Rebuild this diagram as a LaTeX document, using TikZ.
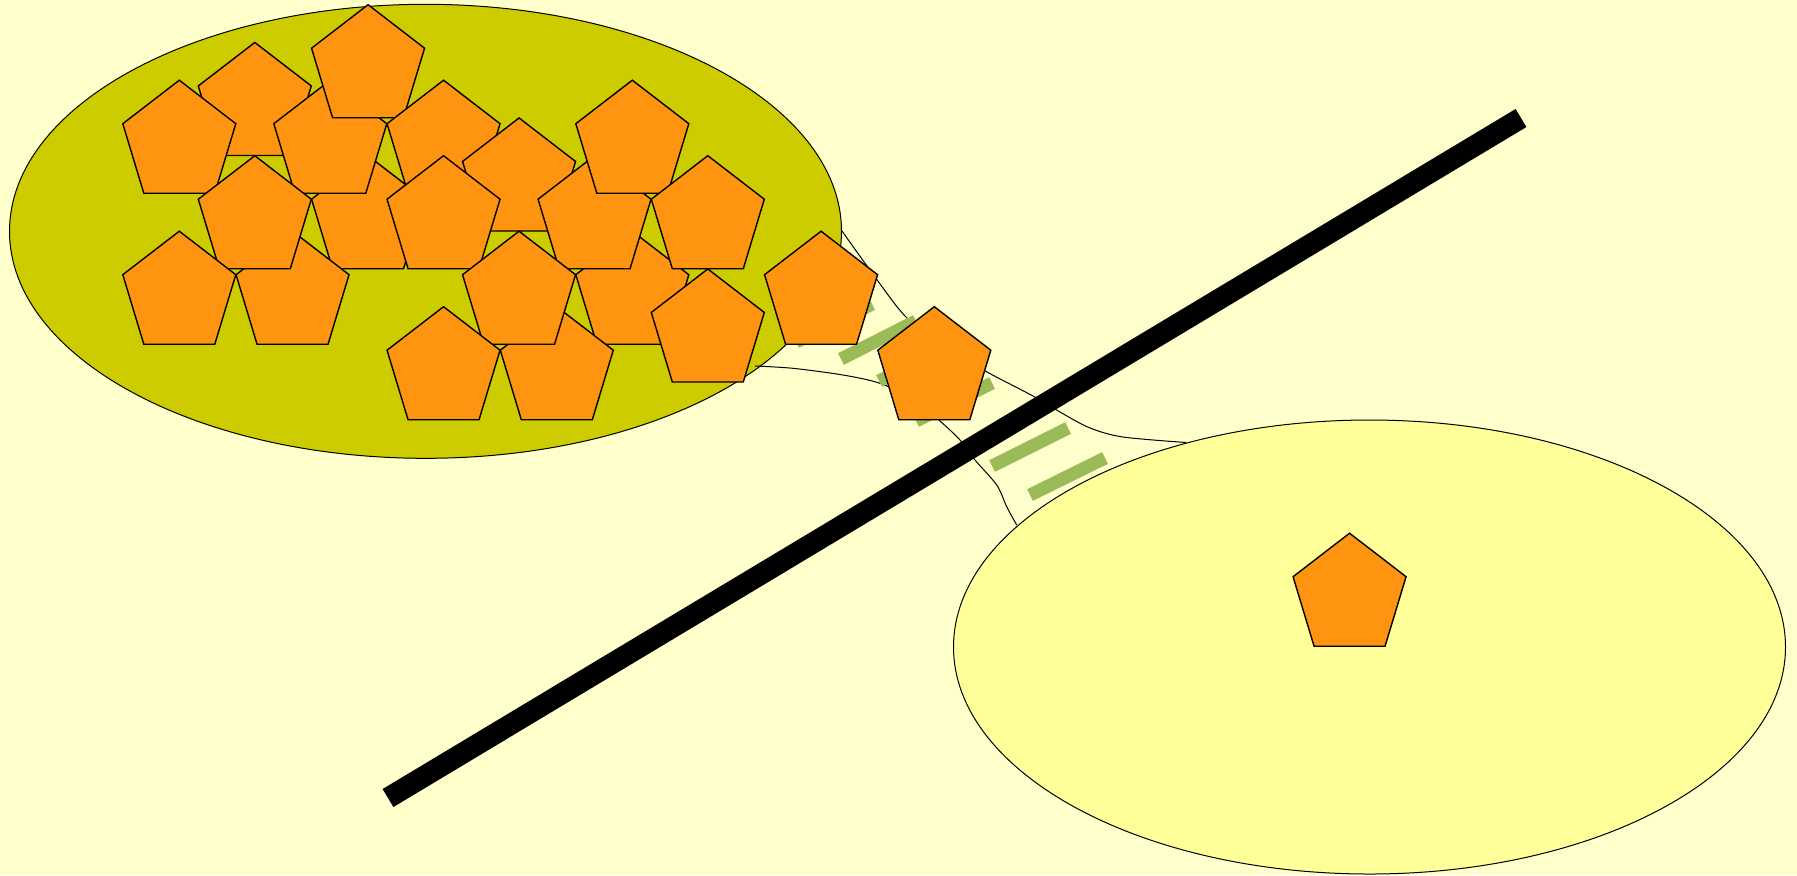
\documentclass[tikz,border=0pt]{standalone}
\usetikzlibrary{shapes.geometric}
\definecolor{bgyellow}{HTML}{FFFFCC}
\definecolor{olivefill}{HTML}{CCCC00}
\definecolor{lightfill}{HTML}{FFFF99}
\definecolor{pentorange}{HTML}{FF9411}
\definecolor{dashgreen}{HTML}{9BBB59}
\newcommand\mypent[2]{%
  \draw[pentshape] ({179.3+37.75*#1},{4.7+37.75*#2}) -- ++(56.5,43.5) -- ++(-21,69.5) -- ++(-71,0) -- ++(-21,-69.5) -- cycle;}
\begin{document}
\begin{tikzpicture}[x=0.5pt,y=-0.5pt,
  pentshape/.style={draw=black, line width=0.7pt, fill=pentorange, line join=miter},
  greenbar/.style={draw=dashgreen, line width=6.5pt},
  tube/.style={draw=black, line width=0.5pt},
  blackbar/.style={draw=black, line width=10.5pt},
  blob/.style={ellipse, draw=black, line width=0.5pt, inner sep=0pt, minimum width=416pt, minimum height=227pt}]
\fill[bgyellow] (0,0) rectangle (1797,875);
\useasboundingbox (0,0) rectangle (1797,875);
% regions
\node[blob, fill=olivefill] (left) at (425.5,231.3) {};
\node[blob, fill=lightfill] (right) at (1369.5,647) {};
% tube boundaries
\draw[tube] plot[smooth, tension=0.5] coordinates {(842,231) (875,277) (907,318) (950,350) (987,372) (1033,396) (1060,412) (1090,428) (1123,437) (1186,442.5)};
\draw[tube] plot[smooth, tension=0.5] coordinates {(755,366) (793,368.3) (843,375) (880,383.3) (915,400) (940,421) (960,440) (975,460) (996.7,485) (1006.7,506.7) (1016.7,525)};
% green dashes
\coordinate (g1a) at (796,342); \coordinate (g1b) at (872,304);
\coordinate (g2a) at (841,359); \coordinate (g2b) at (916,321);
\coordinate (g3a) at (879,381); \coordinate (g3b) at (955,343);
\coordinate (g4a) at (916,421); \coordinate (g4b) at (992,383);
\coordinate (g5a) at (992,466); \coordinate (g5b) at (1068,428);
\coordinate (g6a) at (1030,495); \coordinate (g6b) at (1105,458);
\draw[greenbar] (g1a) -- (g1b);
\draw[greenbar] (g2a) -- (g2b);
\draw[greenbar] (g3a) -- (g3b);
\draw[greenbar] (g4a) -- (g4b);
\draw[greenbar] (g5a) -- (g5b);
\draw[greenbar] (g6a) -- (g6b);
% pentagons (back to front)
\mypent{2}{1}
\mypent{5}{4}
\mypent{0}{2}
\mypent{4}{2}
\mypent{5}{0}
\mypent{7}{2}
\mypent{9}{3}
\mypent{3}{6}
\mypent{2}{4}
\mypent{0}{6}
\mypent{7}{4}
\mypent{12}{6}
\mypent{11}{4}
\mypent{12}{2}
\mypent{14}{4}
\mypent{14}{7}
\mypent{10}{8}
\mypent{9}{6}
\mypent{7}{8}
\mypent{17}{6}
\mypent{20}{8}
\mypent{31}{14}
% barrier
\coordinate (barA) at (388,798);
\coordinate (barB) at (1521,118);
\draw[blackbar] (barA) -- (barB);
\end{tikzpicture}
\end{document}
